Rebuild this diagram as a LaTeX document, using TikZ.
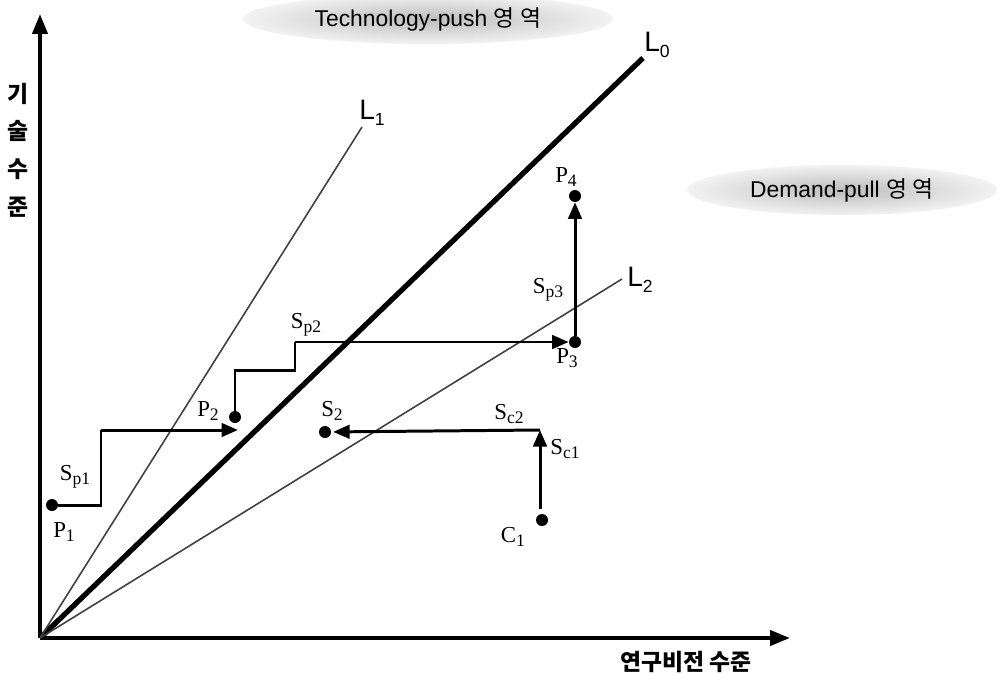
\documentclass[tikz,border=0pt]{standalone}
\usepackage{fontspec}
\setmainfont{Liberation Serif}
\newfontfamily\krfont{Noto Sans CJK KR}
\newfontfamily\lsans{Liberation Sans}
\usetikzlibrary{arrows.meta, shapes.geometric}

% label with a lowered small index, as P_1 or S_p1
\newcommand{\idx}[2]{#1\raisebox{-0.4ex}{\fontsize{10}{10}\selectfont #2}}
\newcommand{\zonekr}{{\krfont 영\hspace{0.25em}역}}

\begin{document}
\begin{tikzpicture}[
    x=0.02cm, y=-0.02cm,
    axis/.style={line width=2.3pt, -{Triangle[length=0.4cm, width=0.3cm]}},
    seg/.style={line width=1.7pt},
    arr/.style={line width=1.7pt, -{Triangle[length=0.33cm, width=0.27cm]}},
    dot/.style={circle, fill=black, inner sep=0pt, minimum size=0.24cm},
    plab/.style={font=\fontsize{13}{13}\selectfont, inner sep=0pt},
    llab/.style={font=\lsans\fontsize{16}{16}\selectfont, inner sep=0pt},
    zone/.style={ellipse, inner color=black!26, outer color=black!5, draw=none, font=\lsans\fontsize{13}{13}\selectfont},
    krlab/.style={font=\krfont\bfseries\fontsize{13}{21.5}\selectfont, align=center, inner sep=0pt}
]
\useasboundingbox (0,0) rectangle (997,673);

% zones
\node[zone, minimum width=7.4cm, minimum height=0.8cm] (techzone) at (428,19) {Technology-push \zonekr};
\node[zone, minimum width=6.2cm, minimum height=0.96cm] (demzone) at (842,190) {Demand-pull \zonekr};

% axes
\coordinate (o) at (40,638);
\coordinate (ytip) at (40,14);
\coordinate (xtip) at (790,638);
\draw[axis] (o) -- (ytip);
\draw[axis] (o) -- (xtip);
\node[krlab] (ylab) at (18,150) {기\\술\\수\\준};
\node[krlab] (xlab) at (686,662) {연구비전 수준};

% reference lines
\coordinate (l0end) at (643,58);
\coordinate (l1end) at (362,127);
\coordinate (l2end) at (622,279);
\draw[line width=3pt] (o) -- (l0end);
\draw[line width=0.9pt, black!75] (o) -- (l1end);
\draw[line width=0.9pt, black!75] (o) -- (l2end);
\node[llab] (l0) at (657,45) {\idx{L}{0}};
\node[llab] (l1) at (372,113) {\idx{L}{1}};
\node[llab] (l2) at (640,280) {\idx{L}{2}};

% points
\node[dot] (p1) at (52,505) {};
\node[dot] (p2) at (235,417) {};
\node[dot] (p3) at (575,342) {};
\node[dot] (p4) at (575,196) {};
\node[dot] (c1) at (542,520) {};
\node[dot] (s2) at (325,432) {};

\node[plab] (p1lab) at (64,532) {\idx{P}{1}};
\node[plab] (p2lab) at (208,411) {\idx{P}{2}};
\node[plab] (p3lab) at (567,358) {\idx{P}{3}};
\node[plab] (p4lab) at (566,177) {\idx{P}{4}};
\node[plab] (c1lab) at (513,537) {\idx{C}{1}};
\node[plab] (s2lab) at (332,411) {\idx{S}{2}};
\node[plab] (sp1) at (75,477) {\idx{S}{p1}};
\node[plab] (sp2) at (306,325) {\idx{S}{p2}};
\node[plab] (sp3) at (548,290) {\idx{S}{p3}};
\node[plab] (sc1) at (565,449) {\idx{S}{c1}};
\node[plab] (sc2) at (509,414) {\idx{S}{c2}};

% paths between points
\coordinate (a1) at (101,505);
\coordinate (a2) at (101,430);
\coordinate (a3) at (238,430);
\draw[seg] (p1) -- (a1) -- (a2);
\draw[arr] (a2) -- (a3);

\coordinate (b1) at (235,370);
\coordinate (b2) at (295,370);
\coordinate (b3) at (295,342);
\draw[seg] (p2) -- (b1) -- (b2) -- (b3);
\draw[arr] (b3) -- (p3);

\draw[arr] (p3) -- (p4);

\coordinate (d1) at (540,430);
\draw[arr] (c1.north) ++(-2,-5) -- (d1);
\draw[arr, shorten >=1pt] (d1) -- (s2);

\end{tikzpicture}
\end{document}
